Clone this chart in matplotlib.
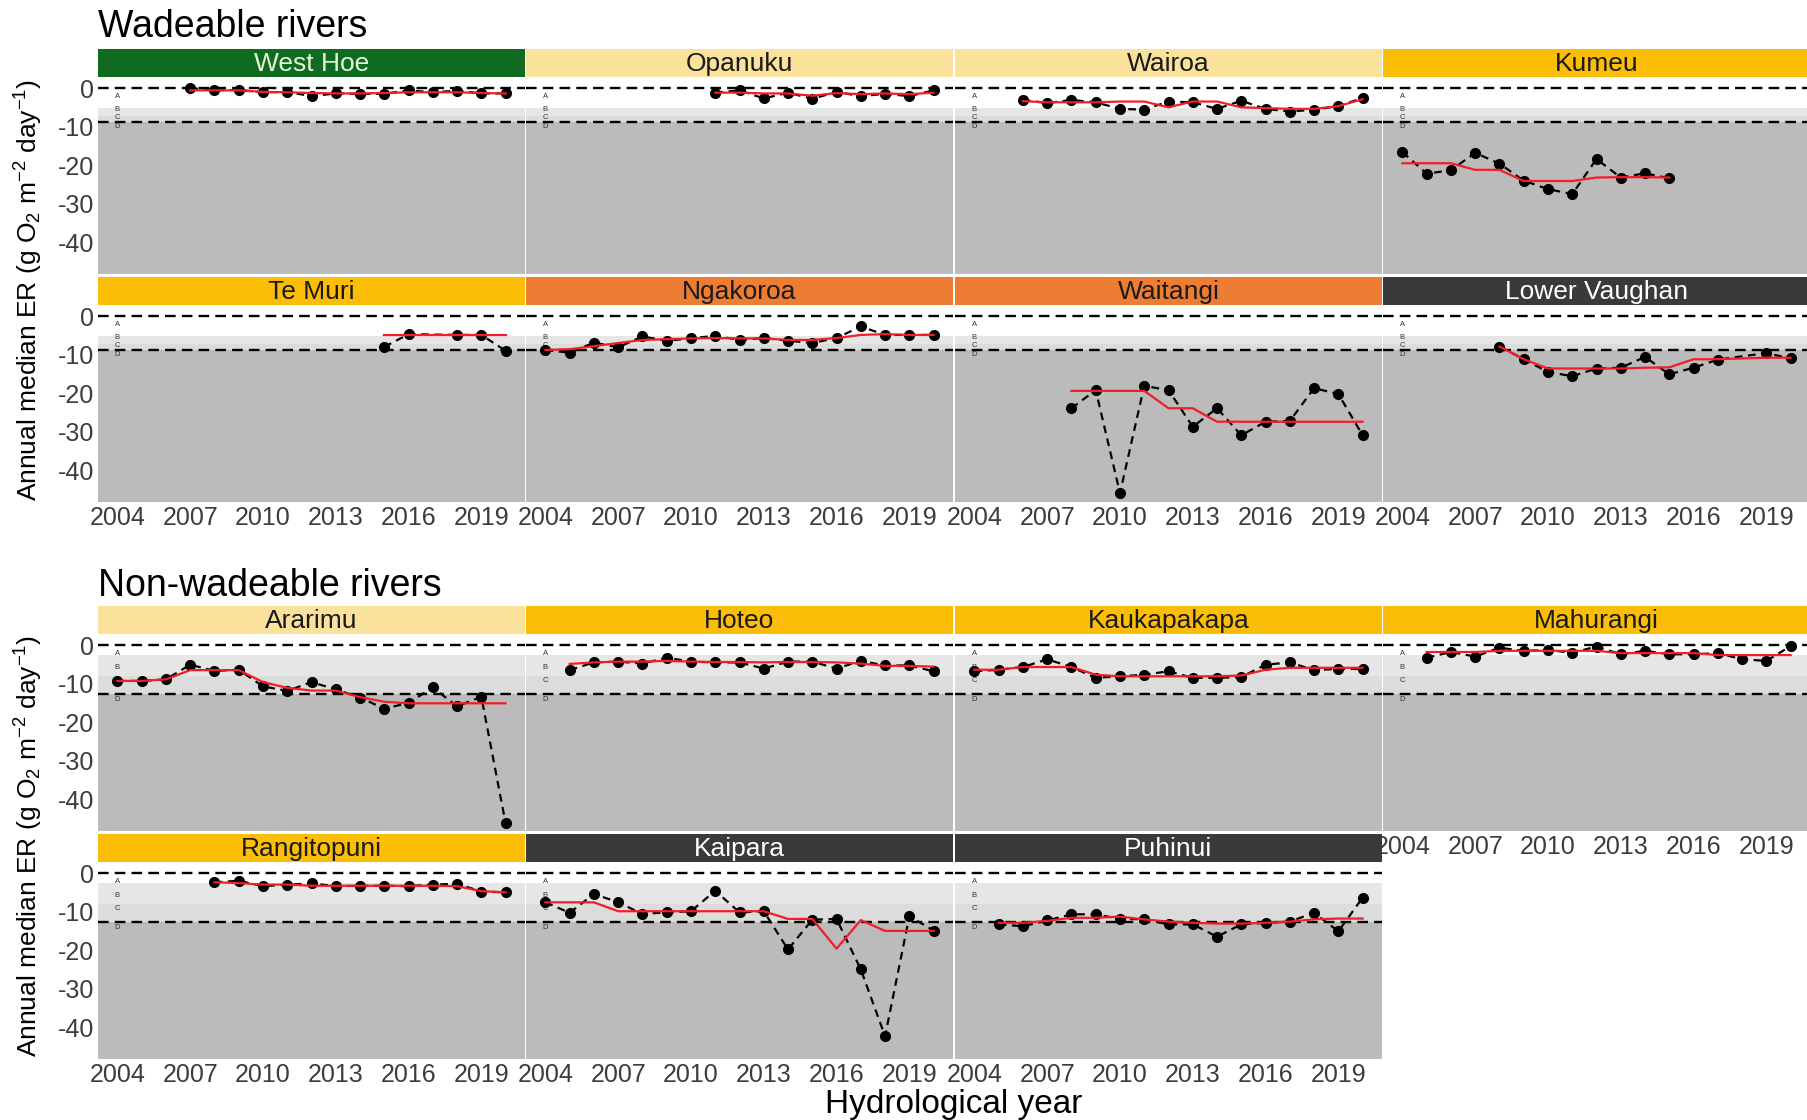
import matplotlib
matplotlib.use("Agg")
import matplotlib.pyplot as plt
from matplotlib.ticker import FixedLocator, FixedFormatter

plt.rcParams["font.family"] = ["Liberation Sans", "DejaVu Sans"]
plt.rcParams["mathtext.default"] = "regular"
plt.rcParams["axes.unicode_minus"] = False

# ---- annual median ER (g O2 m-2 day-1), black points, and red running median ----
yrs_west_hoe = list(range(2007, 2021))
er_west_hoe = [0.0, -0.6, -0.5, -1.1, -1.0, -2.1, -1.4, -1.5, -1.5, -0.6, -1.1, -0.7, -1.4, -1.4]
med_west_hoe = [-0.6, -0.6, -0.6, -1.0, -1.1, -1.3, -1.4, -1.4, -1.3, -1.1, -1.1, -1.1, -1.3, -1.4]

yrs_opanuku = list(range(2011, 2021))
er_opanuku = [-1.2, -0.6, -2.7, -1.2, -2.8, -1.0, -2.1, -1.5, -2.1, -0.6]
med_opanuku = [-1.2, -1.2, -1.4, -1.4, -2.0, -1.3, -1.6, -1.4, -1.6, -1.2]

yrs_wairoa = list(range(2006, 2021))
er_wairoa = [-3.1, -3.9, -3.1, -3.7, -5.4, -5.6, -3.5, -3.7, -5.4, -3.3, -5.4, -6.1, -5.6, -4.7, -2.6]
med_wairoa = [-3.4, -3.7, -3.7, -3.7, -3.5, -3.5, -5.0, -3.5, -3.5, -5.0, -5.2, -5.4, -5.4, -4.7, -2.9]

yrs_kumeu = list(range(2004, 2016))
er_kumeu = [-16.6, -22.2, -21.3, -16.8, -19.6, -24.0, -26.2, -27.5, -18.4, -23.2, -22.1, -23.4]
med_kumeu = [-19.5, -19.5, -19.5, -21.2, -21.2, -24.1, -24.1, -24.1, -23.2, -23.1, -23.1, -23.2]

yrs_te_muri = [2015, 2016, 2018, 2019, 2020]
er_te_muri = [-8.0, -4.7, -4.9, -4.9, -9.0]
med_te_muri = [-5.0, -5.0, -5.0, -5.0, -5.0]

yrs_ngakoroa = list(range(2004, 2021))
er_ngakoroa = [-8.8, -9.5, -6.9, -8.1, -5.3, -6.4, -5.8, -5.1, -6.2, -5.7, -6.4, -7.0, -5.7, -2.7, -4.9, -4.9, -4.9]
med_ngakoroa = [-8.8, -8.6, -7.8, -7.0, -6.2, -6.0, -5.8, -5.7, -5.8, -5.8, -6.2, -6.2, -5.7, -4.9, -4.7, -4.9, -4.9]

yrs_waitangi = list(range(2008, 2021))
er_waitangi = [-23.9, -19.2, -45.9, -18.1, -19.2, -28.7, -23.9, -30.9, -27.4, -27.2, -18.7, -20.2, -30.9]
med_waitangi = [-19.4, -19.4, -19.4, -19.4, -23.9, -23.9, -27.4, -27.4, -27.4, -27.4, -27.4, -27.4, -27.4]

yrs_lower_vaughan = [2008, 2009, 2010, 2011, 2012, 2013, 2014, 2015, 2016, 2017, 2019, 2020]
er_lower_vaughan = [-7.9, -11.2, -14.5, -15.6, -13.6, -13.4, -10.6, -15.1, -13.4, -11.3, -9.6, -11.0]
med_lower_vaughan = [-7.9, -11.2, -13.6, -13.6, -13.6, -13.6, -13.4, -13.3, -11.2, -11.2, -10.8, -10.8]

yrs_ararimu = list(range(2004, 2021))
er_ararimu = [-9.3, -9.3, -8.9, -5.1, -6.7, -6.4, -10.7, -11.9, -9.6, -11.5, -13.6, -16.5, -15.0, -11.0, -15.9, -13.4, -46.2]
med_ararimu = [-9.3, -9.3, -8.9, -6.5, -6.5, -6.5, -9.6, -11.1, -11.8, -11.8, -13.5, -14.7, -15.1, -15.1, -15.1, -15.1, -15.1]

yrs_hoteo = list(range(2005, 2021))
er_hoteo = [-6.5, -4.5, -4.3, -4.8, -3.3, -4.3, -4.5, -4.5, -6.1, -4.3, -4.3, -6.1, -4.1, -5.3, -5.3, -6.8]
med_hoteo = [-4.9, -4.5, -4.3, -4.3, -4.1, -4.3, -4.4, -4.4, -4.5, -4.4, -4.4, -4.5, -4.8, -5.4, -5.4, -5.6]

yrs_kaukapakapa = list(range(2004, 2021))
er_kaukapakapa = [-6.8, -6.4, -5.7, -3.7, -5.7, -8.5, -8.1, -7.7, -6.8, -8.5, -8.5, -8.3, -5.1, -4.5, -6.5, -6.2, -6.2]
med_kaukapakapa = [-6.4, -6.4, -5.7, -5.7, -5.7, -7.7, -8.1, -8.1, -8.1, -8.1, -8.1, -7.9, -6.4, -5.9, -5.9, -5.9, -5.9]

yrs_mahurangi = list(range(2005, 2021))
er_mahurangi = [-3.3, -1.8, -3.0, -0.7, -1.5, -1.3, -2.0, -0.4, -2.4, -1.5, -2.4, -2.4, -2.1, -3.7, -4.1, -0.3]
med_mahurangi = [-1.8, -1.8, -1.8, -1.5, -1.5, -1.5, -1.5, -1.5, -2.1, -2.1, -2.1, -2.1, -2.6, -2.6, -2.6, -2.6]

yrs_rangitopuni = list(range(2008, 2021))
er_rangitopuni = [-2.4, -2.0, -3.4, -3.0, -2.7, -3.4, -3.3, -3.3, -3.4, -3.0, -2.8, -4.8, -5.0]
med_rangitopuni = [-2.4, -2.6, -3.0, -3.0, -3.3, -3.3, -3.3, -3.3, -3.3, -3.3, -3.4, -4.7, -5.0]

yrs_kaipara = list(range(2004, 2021))
er_kaipara = [-7.6, -10.3, -5.4, -7.6, -10.6, -10.2, -9.9, -4.6, -10.2, -9.9, -19.8, -12.1, -11.9, -25.0, -42.3, -11.2, -14.9]
med_kaipara = [-7.6, -7.6, -7.6, -9.9, -9.9, -9.9, -9.9, -9.9, -9.9, -9.9, -11.9, -11.9, -19.6, -12.2, -15.0, -15.0, -15.0]

yrs_puhinui = list(range(2005, 2021))
er_puhinui = [-13.3, -13.8, -12.3, -10.7, -10.7, -11.9, -12.0, -13.3, -13.3, -16.5, -13.3, -12.9, -12.6, -10.3, -15.1, -6.4]
med_puhinui = [-12.9, -12.9, -12.4, -11.6, -11.6, -11.3, -12.0, -12.6, -12.9, -13.1, -13.1, -12.9, -12.6, -12.0, -11.8, -11.8]

# band limits and label heights: wadeable vs non-wadeable
bands_wade = [-5.1, -7.2, -8.9]
bands_nonwade = [-2.6, -8.0, -12.8]
label_y_wade = [-2.3, -5.6, -7.7, -9.9]
label_y_nonwade = [-2.2, -5.9, -9.2, -14.0]

year_ticks = [2004, 2007, 2010, 2013, 2016, 2019]
er_ticks = [0, -10, -20, -30, -40]

DARK_GREEN = "#0f6b1f"
PALE = "#fbe29c"
GOLD = "#fbbd05"
ORANGE = "#ec7d32"
DARK = "#3a3a3a"

panels = [
    # name, years, er, median, row, col, strip colour, text colour, wadeable
    ("West Hoe", yrs_west_hoe, er_west_hoe, med_west_hoe, 0, 0, DARK_GREEN, "#e4f5dc", True),
    ("Opanuku", yrs_opanuku, er_opanuku, med_opanuku, 0, 1, PALE, "#1a1a1a", True),
    ("Wairoa", yrs_wairoa, er_wairoa, med_wairoa, 0, 2, PALE, "#1a1a1a", True),
    ("Kumeu", yrs_kumeu, er_kumeu, med_kumeu, 0, 3, GOLD, "#1a1a1a", True),
    ("Te Muri", yrs_te_muri, er_te_muri, med_te_muri, 1, 0, GOLD, "#1a1a1a", True),
    ("Ngakoroa", yrs_ngakoroa, er_ngakoroa, med_ngakoroa, 1, 1, ORANGE, "#1a1a1a", True),
    ("Waitangi", yrs_waitangi, er_waitangi, med_waitangi, 1, 2, ORANGE, "#1a1a1a", True),
    ("Lower Vaughan", yrs_lower_vaughan, er_lower_vaughan, med_lower_vaughan, 1, 3, DARK, "white", True),
    ("Ararimu", yrs_ararimu, er_ararimu, med_ararimu, 2, 0, PALE, "#1a1a1a", False),
    ("Hoteo", yrs_hoteo, er_hoteo, med_hoteo, 2, 1, GOLD, "#1a1a1a", False),
    ("Kaukapakapa", yrs_kaukapakapa, er_kaukapakapa, med_kaukapakapa, 2, 2, GOLD, "#1a1a1a", False),
    ("Mahurangi", yrs_mahurangi, er_mahurangi, med_mahurangi, 2, 3, GOLD, "#1a1a1a", False),
    ("Rangitopuni", yrs_rangitopuni, er_rangitopuni, med_rangitopuni, 3, 0, GOLD, "#1a1a1a", False),
    ("Kaipara", yrs_kaipara, er_kaipara, med_kaipara, 3, 1, DARK, "white", False),
    ("Puhinui", yrs_puhinui, er_puhinui, med_puhinui, 3, 2, DARK, "white", False),
]

W, H = 1807, 1120
COL_X = [98, 526, 955, 1383]
ROW_Y = [78, 306, 635, 863]
PANEL_W, PANEL_H, STRIP_H = 427, 196, 28


def rect(x, y, w, h):
    return [x / W, 1 - (y + h) / H, w / W, h / H]


fig = plt.figure(figsize=(W / 100, H / 100), dpi=100)

for name, yrs, er, med, row, col, scol, tcol, wade in panels:
    ax = fig.add_axes(rect(COL_X[col], ROW_Y[row], PANEL_W, PANEL_H))
    ax.set_xlim(2003.2, 2020.8)
    ax.set_ylim(-48.2, 2.6)
    ax.set_facecolor("white")
    for s in ax.spines.values():
        s.set_visible(False)

    b = bands_wade if wade else bands_nonwade
    ax.axhspan(b[0], b[1], color="#e6e6e6", lw=0, zorder=0)
    ax.axhspan(b[1], b[2], color="#dcdcdc", lw=0, zorder=0)
    ax.axhspan(b[2], -60, color="#bbbbbb", lw=0, zorder=0)
    for yl in (0, b[2]):
        ax.axhline(yl, color="black", lw=1.7, ls=(0, (4.5, 2.6)), zorder=1)
    for lab, yl in zip("ABCD", label_y_wade if wade else label_y_nonwade):
        ax.text(2004, yl, lab, fontsize=5.5, color="#333333", ha="center", va="center", zorder=2)

    ax.plot(yrs, er, color="black", lw=1.6, ls=(0, (3.5, 2.5)), zorder=3)
    ax.plot(yrs, er, "o", color="black", ms=7, zorder=4)
    ax.plot(yrs, med, color="#f41c28", lw=1.6, zorder=5)

    ax.xaxis.set_major_locator(FixedLocator(year_ticks))
    ax.yaxis.set_major_locator(FixedLocator(er_ticks))
    ax.yaxis.set_major_formatter(FixedFormatter([str(t) for t in er_ticks]))
    ax.tick_params(length=0, pad=3, labelsize=18, labelcolor="#3c3c3c")
    show_x = row in (1, 3) or (row == 2 and col == 3)
    if not show_x:
        ax.set_xticklabels([])
    if col != 0:
        ax.set_yticklabels([])

    sax = fig.add_axes(rect(COL_X[col], ROW_Y[row] - STRIP_H - 1, PANEL_W, STRIP_H))
    sax.set_facecolor(scol)
    sax.set_xticks([])
    sax.set_yticks([])
    for s in sax.spines.values():
        s.set_visible(False)
    sax.text(0.5, 0.45, name, transform=sax.transAxes, ha="center", va="center",
             fontsize=19, color=tcol)

fig.text(98 / W, 1 - 27 / H, "Wadeable rivers", fontsize=27, va="center", ha="left")
fig.text(98 / W, 1 - 586 / H, "Non-wadeable rivers", fontsize=27, va="center", ha="left")
ylab = "Annual median ER (g O$_2$ m$^{-2}$ day$^{-1}$)"
fig.text(29 / W, 1 - 290 / H, ylab, rotation=90, fontsize=19, va="center", ha="center")
fig.text(29 / W, 1 - 846 / H, ylab, rotation=90, fontsize=19, va="center", ha="center")
fig.text(954 / W, 1 - 1104 / H, "Hydrological year", fontsize=24, va="center", ha="center")

fig.savefig("out.png", dpi=100)
